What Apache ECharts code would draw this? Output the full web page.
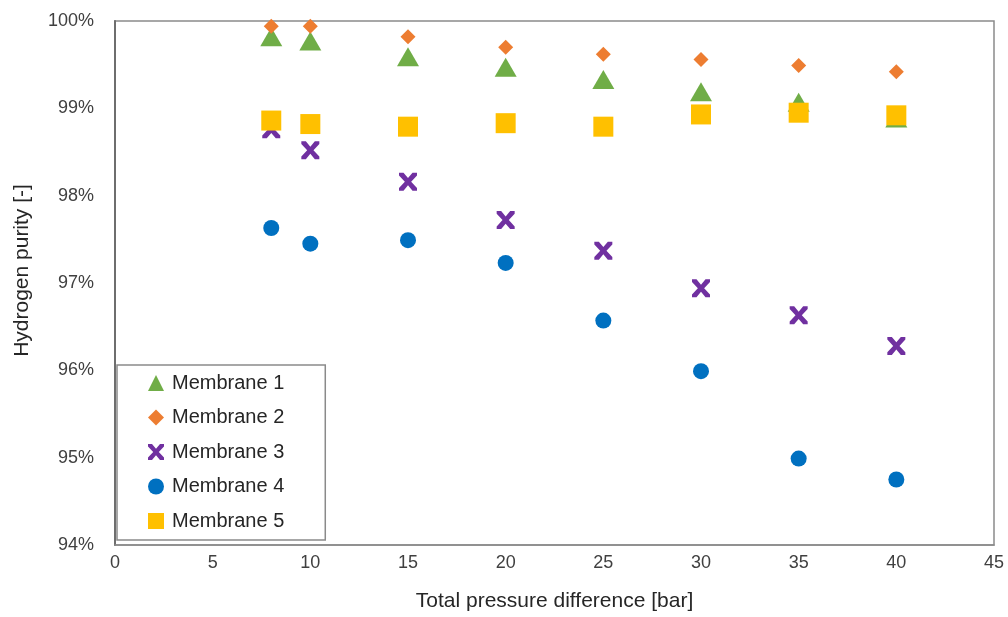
<!DOCTYPE html>
<html>
<head>
<meta charset="utf-8">
<script src="https://cdn.jsdelivr.net/npm/echarts@6/dist/echarts.min.js"></script>
<style>
  html, body { margin: 0; padding: 0; background: #fff; }
  #chart { width: 1008px; height: 617px; }
</style>
</head>
<body>
<div id="chart"></div>
<script>
// pressure steps [bar]
var pressure = [8, 10, 15, 20, 25, 30, 35, 40];

// hydrogen purity [%] per membrane
var membrane1 = [99.82, 99.77, 99.59, 99.47, 99.33, 99.19, 99.07, 98.89];
var membrane2 = [99.94, 99.94, 99.82, 99.70, 99.62, 99.56, 99.49, 99.42];
var membrane3 = [98.76, 98.52, 98.16, 97.72, 97.37, 96.94, 96.63, 96.28];
var membrane4 = [97.63, 97.45, 97.49, 97.23, 96.57, 95.99, 94.99, 94.75];
var membrane5 = [98.86, 98.82, 98.79, 98.83, 98.79, 98.93, 98.95, 98.92];

var names = ['Membrane 1', 'Membrane 2', 'Membrane 3', 'Membrane 4', 'Membrane 5'];

// x-shaped marker like the excel one
var xMark = 'path://M0,0 L5,0 L10,6 L15,0 L20,0 L20,3 L13.5,10 L20,17 L20,20 L15,20 L10,14 L5,20 L0,20 L0,17 L6.5,10 L0,3 Z';

function pairs(ys) {
    var out = [];
    for (var i = 0; i < pressure.length; i++) {
        out.push([pressure[i], ys[i]]);
    }
    return out;
}

window.onload = function () {
    var myChart = echarts.init(document.getElementById('chart'));
    var font = 'Liberation Sans, Arial, sans-serif';

    var option = {
        animation: false,
        backgroundColor: '#fff',
        grid: {
            left: 115,
            right: 14,
            top: 21,
            bottom: 72,
            show: true,
            borderColor: '#8a8a8a',
            borderWidth: 1.5
        },
        legend: {
            orient: 'vertical',
            left: 117,
            top: 365,
            padding: [8, 41, 9, 31],
            itemGap: 14.5,
            itemWidth: 16,
            itemHeight: 16,
            backgroundColor: '#fff',
            borderColor: '#8a8a8a',
            borderWidth: 1.5,
            borderRadius: 0,
            textStyle: {
                fontFamily: font,
                fontSize: 20,
                lineHeight: 20,
                color: '#262626',
                padding: [0, 0, 0, 3]
            },
            data: names
        },
        xAxis: {
            type: 'value',
            min: 0,
            max: 45,
            interval: 5,
            name: 'Total pressure difference [bar]',
            nameLocation: 'middle',
            nameGap: 46,
            nameTextStyle: { fontFamily: font, fontSize: 21, color: '#262626' },
            axisLine: { show: true, lineStyle: { color: '#8a8a8a', width: 1.5 } },
            axisTick: { show: false },
            splitLine: { show: false },
            axisLabel: { fontFamily: font, fontSize: 18, color: '#404040', margin: 9 }
        },
        yAxis: {
            type: 'value',
            min: 94,
            max: 100,
            interval: 1,
            name: 'Hydrogen purity [-]',
            nameLocation: 'middle',
            nameGap: 82,
            nameTextStyle: { fontFamily: font, fontSize: 21, color: '#262626', padding: [0, 0, 0, 25] },
            axisLine: { show: true, lineStyle: { color: '#6e6e6e', width: 2 } },
            axisTick: { show: false },
            splitLine: { show: false },
            axisLabel: {
                fontFamily: font, fontSize: 18, color: '#404040', margin: 21,
                formatter: function (v) { return v + '%'; }
            }
        },
        series: [
            {
                name: names[0], type: 'scatter',
                symbol: 'triangle', symbolSize: [22, 19],
                itemStyle: { color: '#70AD47', opacity: 1 },
                data: pairs(membrane1)
            },
            {
                name: names[1], type: 'scatter',
                symbol: 'diamond', symbolSize: 15,
                itemStyle: { color: '#ED7D31', opacity: 1 },
                data: pairs(membrane2)
            },
            {
                name: names[2], type: 'scatter',
                symbol: xMark, symbolSize: 18,
                itemStyle: { color: '#7030A0', opacity: 1 },
                data: pairs(membrane3)
            },
            {
                name: names[3], type: 'scatter',
                symbol: 'circle', symbolSize: 16,
                itemStyle: { color: '#0070C0', opacity: 1 },
                data: pairs(membrane4)
            },
            {
                name: names[4], type: 'scatter',
                symbol: 'rect', symbolSize: 20,
                itemStyle: { color: '#FFC000', opacity: 1 },
                data: pairs(membrane5)
            }
        ]
    };
    myChart.setOption(option);
};
</script>
</body>
</html>
